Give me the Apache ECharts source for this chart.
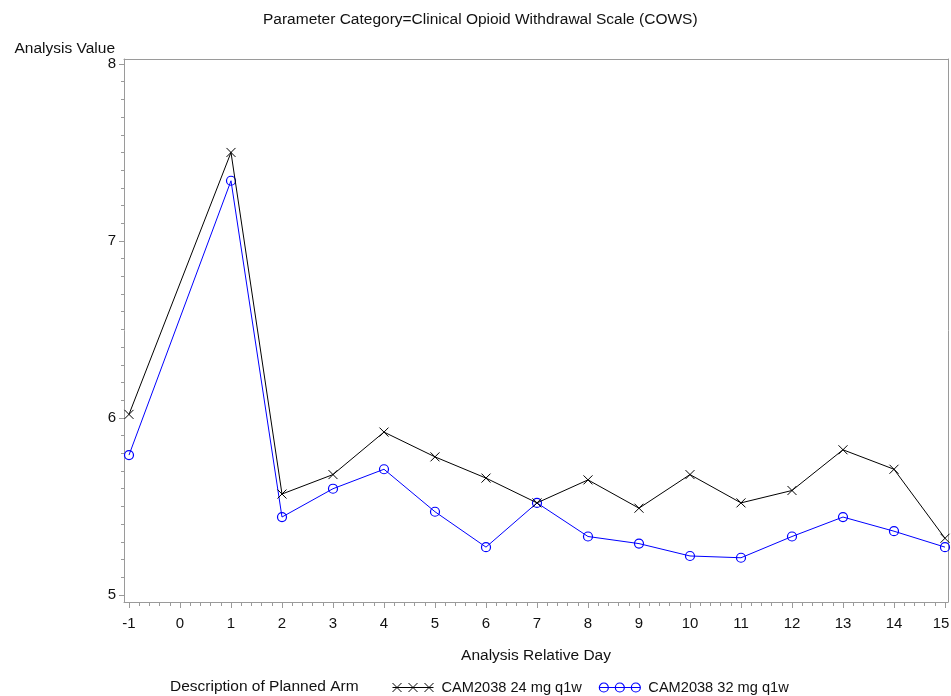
<!DOCTYPE html>
<html>
<head>
<meta charset="utf-8">
<title>COWS by Analysis Relative Day</title>
<script src="https://cdn.jsdelivr.net/npm/echarts@6/dist/echarts.min.js"></script>
<style>
  html, body { margin: 0; padding: 0; background: #fff; }
  #chart { width: 951px; height: 696px; }
</style>
</head>
<body>
<div id="chart"></div>
<script>
// Analysis relative days with a recorded mean (no value on day 0)
const days = [-1, 1, 2, 3, 4, 5, 6, 7, 8, 9, 10, 11, 12, 13, 14, 15];
// Mean COWS score per arm
const arm24 = [6.02, 7.50, 5.57, 5.68, 5.92, 5.78, 5.66, 5.52, 5.65, 5.49, 5.68, 5.52, 5.59, 5.82, 5.71, 5.32];
const arm32 = [5.79, 7.34, 5.44, 5.60, 5.71, 5.47, 5.27, 5.52, 5.33, 5.29, 5.22, 5.21, 5.33, 5.44, 5.36, 5.27];
// Arm names and axis tick labels
const armNames = ['CAM2038 24 mg q1w', 'CAM2038 32 mg q1w'];
const xTicks = [-1, 0, 1, 2, 3, 4, 5, 6, 7, 8, 9, 10, 11, 12, 13, 14, 15];
const yTicks = [5, 6, 7, 8];

const X_MIN = -1.098, X_MAX = 15.059;
const Y_MIN = 4.96, Y_MAX = 8.028;

// minor tick positions: fifths of a day on x, tenths on y
function minorSteps(ticks, parts) {
  const out = [];
  for (let i = 0; i < ticks.length - 1; i++) {
    const a = ticks[i], b = ticks[i + 1];
    for (let k = 1; k < parts; k++) out.push(+(a + (b - a) * k / parts).toFixed(4));
  }
  return out;
}
const xMinor = minorSteps(xTicks, 5);
const yMinor = minorSteps(yTicks, 10);

const FONT = '"Liberation Sans", Arial, sans-serif';
const AXIS_GRAY = '#9a9a9a';
const TEXT = '#111';

const xSymbol = 'path://M0 0L10 10M10 0L0 10';
const legendCross = 'path://M0 4.5L41 4.5M0 0L9 9M9 0L0 9M16 0L25 9M25 0L16 9M32 0L41 9M41 0L32 9';
const legendCircle = 'path://M0 4.5L41 4.5M0 4.5a4.5 4.5 0 1 0 9 0a4.5 4.5 0 1 0 -9 0M16 4.5a4.5 4.5 0 1 0 9 0a4.5 4.5 0 1 0 -9 0M32 4.5a4.5 4.5 0 1 0 9 0a4.5 4.5 0 1 0 -9 0';

const chart = echarts.init(document.getElementById('chart'), null, { renderer: 'canvas' });

const plainAxisLine = { show: true, onZero: false, lineStyle: { color: AXIS_GRAY, width: 1 } };
const lastX = xTicks[xTicks.length - 1];

const option = {
  animation: false,
  backgroundColor: '#fff',
  textStyle: { fontFamily: FONT },
  title: [
    {
      text: 'Parameter Category=Clinical Opioid Withdrawal Scale (COWS)',
      left: 263, top: 12, padding: 0,
      textStyle: { fontFamily: FONT, fontSize: 15.5, fontWeight: 'normal', color: TEXT }
    },
    {
      text: 'Description of Planned Arm',
      left: 170, top: 679, padding: 0,
      textStyle: { fontFamily: FONT, fontSize: 15.5, fontWeight: 'normal', color: TEXT }
    }
  ],
  legend: {
    left: 390, top: 680, padding: 0,
    itemWidth: 41, itemHeight: 9, itemGap: 15,
    selectedMode: false,
    textStyle: { fontFamily: FONT, fontSize: 14.6, color: TEXT, padding: [0, 0, 0, 3] },
    data: [
      { name: armNames[0], icon: legendCross, itemStyle: { color: 'none', borderColor: '#000', borderWidth: 1 } },
      { name: armNames[1], icon: legendCircle, itemStyle: { color: 'none', borderColor: '#0000ff', borderWidth: 1.2 } }
    ]
  },
  grid: { left: 124, top: 59, right: 3, bottom: 94, containLabel: false, outerBoundsMode: 'none' },
  xAxis: [
    {
      type: 'value', position: 'bottom', min: X_MIN, max: X_MAX,
      name: 'Analysis Relative Day', nameLocation: 'middle', nameGap: 46,
      nameTextStyle: { fontFamily: FONT, fontSize: 15.5, color: TEXT },
      axisLine: plainAxisLine,
      axisTick: { show: true, length: 6, customValues: xTicks, lineStyle: { color: AXIS_GRAY } },
      axisLabel: {
        show: true, customValues: xTicks, margin: 14, fontFamily: FONT, fontSize: 15, color: TEXT,
        // keep the last label inside the page edge
        formatter: (v) => (v === lastX ? '{edge|' + v + '}' : String(v)),
        rich: { edge: { fontFamily: FONT, fontSize: 15, color: TEXT, padding: [0, 8, 0, 0] } }
      },
      splitLine: { show: false }
    },
    {
      type: 'value', position: 'bottom', min: X_MIN, max: X_MAX,
      axisLine: { show: false, onZero: false },
      axisTick: { show: true, length: 4, customValues: xMinor, lineStyle: { color: AXIS_GRAY } },
      axisLabel: { show: false },
      splitLine: { show: false }
    },
    {
      type: 'value', position: 'top', min: X_MIN, max: X_MAX,
      axisLine: plainAxisLine,
      axisTick: { show: false }, axisLabel: { show: false }, splitLine: { show: false }
    }
  ],
  yAxis: [
    {
      type: 'value', position: 'left', min: Y_MIN, max: Y_MAX,
      name: 'Analysis Value', nameLocation: 'end', nameGap: 2,
      nameTextStyle: { fontFamily: FONT, fontSize: 15.5, color: TEXT, align: 'right', padding: [0, 9, 0, 0] },
      axisLine: plainAxisLine,
      axisTick: { show: true, length: 5, customValues: yTicks, lineStyle: { color: AXIS_GRAY } },
      axisLabel: { show: true, customValues: yTicks, margin: 8, fontFamily: FONT, fontSize: 15, color: TEXT },
      splitLine: { show: false }
    },
    {
      type: 'value', position: 'left', min: Y_MIN, max: Y_MAX,
      axisLine: { show: false, onZero: false },
      axisTick: { show: true, length: 3, customValues: yMinor, lineStyle: { color: AXIS_GRAY } },
      axisLabel: { show: false },
      splitLine: { show: false }
    },
    {
      type: 'value', position: 'right', min: Y_MIN, max: Y_MAX,
      axisLine: plainAxisLine,
      axisTick: { show: false }, axisLabel: { show: false }, splitLine: { show: false }
    }
  ],
  series: [
    {
      name: armNames[0], type: 'line', xAxisIndex: 0, yAxisIndex: 0,
      data: days.map((d, i) => [d, arm24[i]]),
      symbol: xSymbol, symbolSize: 9,
      itemStyle: { color: 'none', borderColor: '#000', borderWidth: 1 },
      lineStyle: { color: '#000', width: 1 },
      emphasis: { disabled: true },
      z: 3
    },
    {
      name: armNames[1], type: 'line', xAxisIndex: 0, yAxisIndex: 0,
      data: days.map((d, i) => [d, arm32[i]]),
      symbol: 'circle', symbolSize: 9,
      itemStyle: { color: 'none', borderColor: '#0000ff', borderWidth: 1.2 },
      lineStyle: { color: '#0000ff', width: 1 },
      emphasis: { disabled: true },
      z: 2
    }
  ]
};

chart.setOption(option);
</script>
</body>
</html>
